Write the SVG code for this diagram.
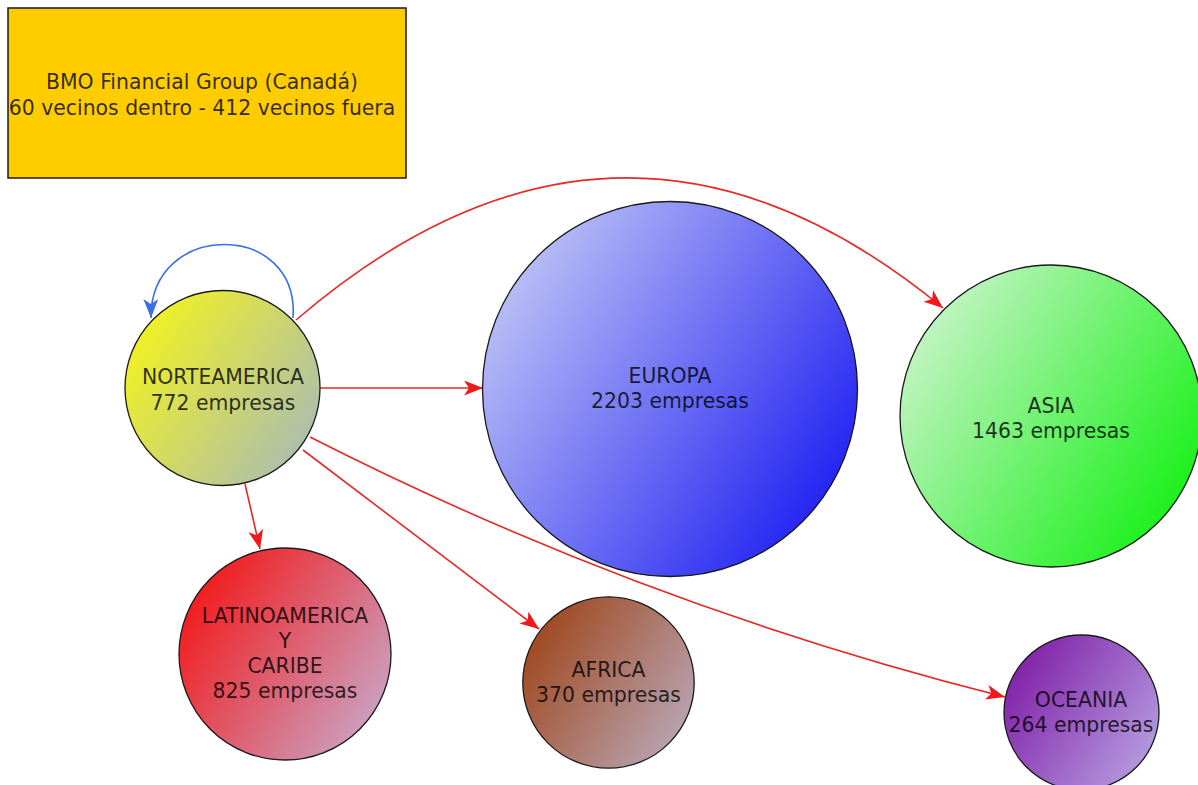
<svg xmlns="http://www.w3.org/2000/svg" width="1198" height="785" viewBox="0 0 1198 785">
<style>
.node circle{stroke:#1a1a1a;stroke-width:1.3}
.lbl{font-family:"DejaVu Sans","Liberation Sans",sans-serif;font-size:20.4px;text-anchor:middle;fill:#000;fill-opacity:0.8}
.edge{fill:none;stroke:#e82828;stroke-width:1.6}
.loop{fill:none;stroke:#3d6fe8;stroke-width:1.6}
</style>
<defs>
<marker id="ar" markerUnits="userSpaceOnUse" markerWidth="20" markerHeight="16" refX="19" refY="7.5" orient="auto">
<path d="M0,0 L19,7.5 L0,15 L5,7.5 z" fill="#f01818"/>
</marker>
<marker id="ab" markerUnits="userSpaceOnUse" markerWidth="20" markerHeight="16" refX="19" refY="7.5" orient="auto">
<path d="M0,0 L19,7.5 L0,15 L5,7.5 z" fill="#3d6fe8"/>
</marker>
<linearGradient id="gNA" x1="0" y1="0.2" x2="1" y2="0.85"><stop offset="0" stop-color="#f4f41c"/><stop offset="1" stop-color="#a8bab8"/></linearGradient>
<linearGradient id="gEU" x1="0" y1="0.2" x2="1" y2="0.85"><stop offset="0" stop-color="#c2c8f6"/><stop offset="1" stop-color="#1616f2"/></linearGradient>
<linearGradient id="gAS" x1="0" y1="0.2" x2="1" y2="0.85"><stop offset="0" stop-color="#ccf4cc"/><stop offset="1" stop-color="#0cf00c"/></linearGradient>
<linearGradient id="gLA" x1="0" y1="0.2" x2="1" y2="0.85"><stop offset="0" stop-color="#f41414"/><stop offset="1" stop-color="#c8aacc"/></linearGradient>
<linearGradient id="gAF" x1="0" y1="0.2" x2="1" y2="0.85"><stop offset="0" stop-color="#9e4418"/><stop offset="1" stop-color="#baaabb"/></linearGradient>
<linearGradient id="gOC" x1="0" y1="0.2" x2="1" y2="0.85"><stop offset="0" stop-color="#7e1ca6"/><stop offset="1" stop-color="#b8a2e2"/></linearGradient>
</defs>
<rect width="1198" height="785" fill="#ffffff"/>
<g id="title">
<rect x="8" y="8" width="398" height="170" fill="#ffcc00" stroke="#1a1a1a" stroke-width="1.5"/>
<text class="lbl" x="202" y="89">BMO Financial Group (Canadá)</text>
<text class="lbl" x="202" y="115">60 vecinos dentro - 412 vecinos fuera</text>
</g>
<g id="connectors">
<path class="loop" d="M293,318 C300,220 150,220 151,318" marker-end="url(#ab)"/>
<path class="edge" d="M320,388 L483,388" marker-end="url(#ar)"/>
<path class="edge" d="M296,320 Q620,42 943,308" marker-end="url(#ar)"/>
<path class="edge" d="M245,484 L260,549" marker-end="url(#ar)"/>
<path class="edge" d="M303,450 L539,629" marker-end="url(#ar)"/>
<path class="edge" d="M310,437 Q640,605 1005,697" marker-end="url(#ar)"/>
</g>
<g id="norteamerica" class="node">
<circle cx="222.5" cy="388" r="97.5" fill="url(#gNA)"/>
<text class="lbl" x="223" y="384">NORTEAMERICA</text>
<text class="lbl" x="223" y="410">772 empresas</text>
</g>
<g id="europa" class="node">
<circle cx="670" cy="389" r="187.5" fill="url(#gEU)"/>
<text class="lbl" x="670" y="383">EUROPA</text>
<text class="lbl" x="670" y="408">2203 empresas</text>
</g>
<g id="asia" class="node">
<circle cx="1051" cy="416" r="151" fill="url(#gAS)"/>
<text class="lbl" x="1051" y="413">ASIA</text>
<text class="lbl" x="1051" y="438">1463 empresas</text>
</g>
<g id="latinoamerica" class="node">
<circle cx="285" cy="654" r="106" fill="url(#gLA)"/>
<text class="lbl" x="285" y="623">LATINOAMERICA</text>
<text class="lbl" x="285" y="648">Y</text>
<text class="lbl" x="285" y="673">CARIBE</text>
<text class="lbl" x="285" y="698">825 empresas</text>
</g>
<g id="africa" class="node">
<circle cx="608.5" cy="682.5" r="85.7" fill="url(#gAF)"/>
<text class="lbl" x="608.5" y="677">AFRICA</text>
<text class="lbl" x="608.5" y="702">370 empresas</text>
</g>
<g id="oceania" class="node">
<circle cx="1081.5" cy="712.5" r="77.5" fill="url(#gOC)"/>
<text class="lbl" x="1081" y="707">OCEANIA</text>
<text class="lbl" x="1081" y="732">264 empresas</text>
</g>
</svg>
